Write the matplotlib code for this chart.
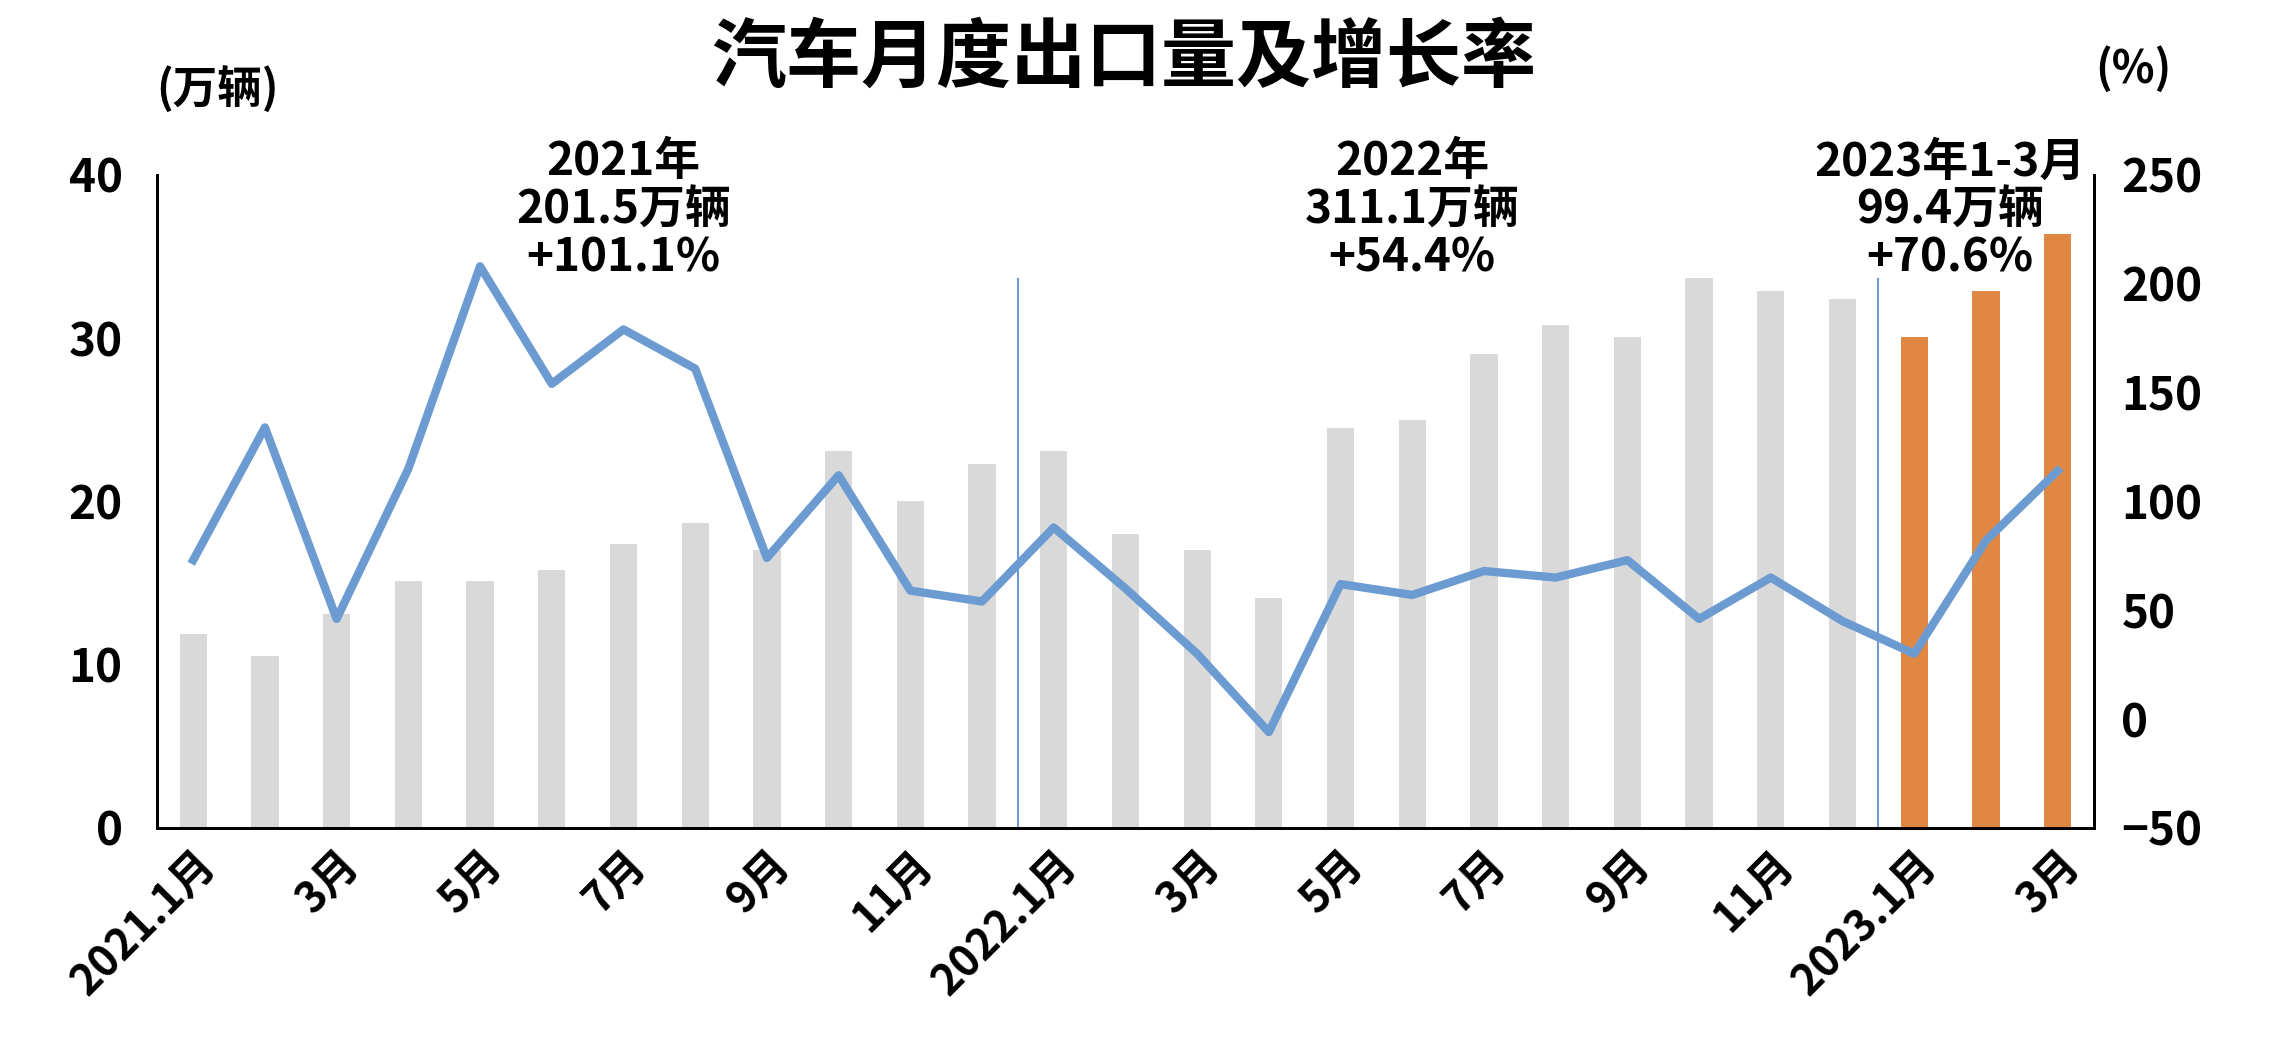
import matplotlib.pyplot as plt
import numpy as np

plt.rcParams['font.family'] = ['Noto Sans CJK SC', 'DejaVu Sans']
plt.rcParams['font.weight'] = 'heavy'

months = ['2021.1月', '2月', '3月', '4月', '5月', '6月', '7月', '8月', '9月', '10月', '11月', '12月',
          '2022.1月', '2月', '3月', '4月', '5月', '6月', '7月', '8月', '9月', '10月', '11月', '12月',
          '2023.1月', '2月', '3月']
volume = [11.9, 10.5, 13.1, 15.1, 15.1, 15.8, 17.4, 18.7, 17.0, 23.1, 20.0, 22.3,
          23.1, 18.0, 17.0, 14.1, 24.5, 25.0, 29.0, 30.8, 30.1, 33.7, 32.9, 32.4,
          30.1, 32.9, 36.4]
growth = [73, 134, 46, 115, 208, 154, 179, 161, 74, 112, 59, 54,
          88, 60, 30, -6, 62, 57, 68, 65, 73, 46, 65, 45,
          30, 82, 114]
notes = ['2021年\n201.5万辆\n+101.1%', '2022年\n311.1万辆\n+54.4%', '2023年1-3月\n99.4万辆\n+70.6%']

x = np.arange(len(months))
colors = ['#d9d9d9'] * 24 + ['#e08744'] * 3

fig = plt.figure(figsize=(22.94, 10.6), dpi=100)
ax = fig.add_axes([0.0686, 0.219, 0.844, 0.616])
ax.bar(x, volume, width=0.38, color=colors, zorder=1)
ax.set_ylim(0, 40)
ax.set_xlim(-0.5, len(x) - 0.5)
ax.set_yticks([0, 10, 20, 30, 40])
ax.spines['top'].set_visible(False)
for s in ['left', 'right', 'bottom']:
    ax.spines[s].set_linewidth(2)
ax.tick_params(axis='y', labelsize=33, length=0, pad=25)
ax.set_xticks(x[::2])
ax.set_xticklabels(months[::2], rotation=45, ha='right', rotation_mode='anchor', fontsize=31)
ax.tick_params(axis='x', length=0, pad=10)

ax2 = ax.twinx()
ax2.plot(x, growth, color='#6c9bd2', lw=6, zorder=3)
ax2.set_ylim(-50, 250)
ax2.set_yticks(range(-50, 251, 50))
ax2.tick_params(axis='y', labelsize=33, length=0, pad=20)
for s in ax2.spines.values():
    s.set_linewidth(2)
ax2.spines['top'].set_visible(False)

for xv in [11.5, 23.5]:
    ax.plot([xv, xv], [0, 33.6], color='#6c9bd2', lw=1.5, zorder=2)

for xv, t in zip([6, 17, 24.5], notes):
    ax.text(xv, 33.5, t, ha='center', va='bottom', fontsize=33, fontweight='heavy', linespacing=1.05)

fig.text(0.49, 0.945, '汽车月度出口量及增长率', ha='center', va='center', fontsize=54, fontweight='heavy')
fig.text(0.095, 0.915, '(万辆)', ha='center', va='center', fontsize=32, fontweight='heavy')
fig.text(0.93, 0.935, '(%)', ha='center', va='center', fontsize=32, fontweight='heavy')

fig.savefig('out.png')
